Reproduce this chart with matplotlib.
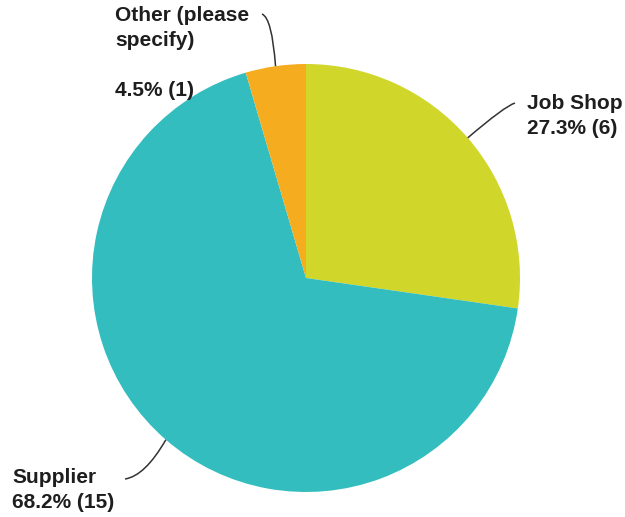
import numpy as np
import matplotlib.pyplot as plt
from matplotlib.path import Path
from matplotlib.patches import PathPatch

plt.rcParams['font.family'] = ['Liberation Sans', 'DejaVu Sans']

# survey answers, in clockwise order from 12 o'clock
labels = ["Job Shop", "Supplier", "Other (please\nspecify)\n"]
counts = [6, 15, 1]
colors = ["#d0d62a", "#33bdbf", "#f6ac1f"]

W, H = 625, 517
fig = plt.figure(figsize=(W / 100, H / 100), dpi=100)
ax = fig.add_axes([0, 0, 1, 1])

cx, cy, r = 306, H - 278, 214
wedges, _ = ax.pie(counts, colors=colors, startangle=90, counterclock=False,
                   center=(cx, cy), radius=r, frame=True)
ax.set_xlim(0, W)
ax.set_ylim(0, H)
ax.set_aspect('equal')
ax.axis('off')

total = sum(counts)

# leader line bends and label anchors (pixel offsets, y measured from top)
leaders = [
    {"ctrl": (505, 106), "end": (515, 103), "text": (527, 116), "va": "center"},
    {"ctrl": (145, 476), "end": (125, 479), "text": (12, 490), "va": "center"},
    {"ctrl": (272, 18), "end": (262, 14), "text": (115, 6), "va": "top"},
]

for w, lab, n, ld in zip(wedges, labels, counts, leaders):
    mid = np.radians((w.theta1 + w.theta2) / 2)
    start = (cx + r * np.cos(mid), cy + r * np.sin(mid))
    ctrl = (ld["ctrl"][0], H - ld["ctrl"][1])
    end = (ld["end"][0], H - ld["end"][1])
    path = Path([start, ctrl, end], [Path.MOVETO, Path.CURVE3, Path.CURVE3])
    ax.add_patch(PathPatch(path, fill=False, color="#333333", lw=1.1))
    txt = f"{lab}\n{100 * n / total:.1f}% ({n})"
    ax.text(ld["text"][0], H - ld["text"][1], txt, ha="left", va=ld["va"],
            fontsize=15, fontweight="bold", color="#1e1e1e", linespacing=1.4)

fig.savefig("out.png", dpi=100)
